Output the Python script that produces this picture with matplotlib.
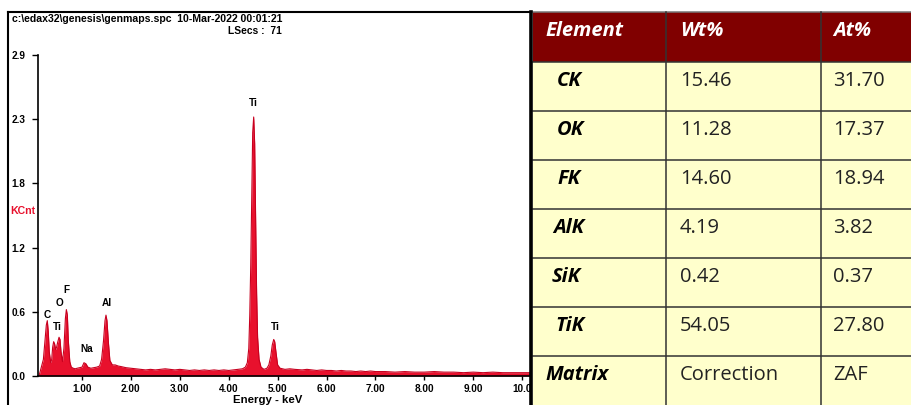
import numpy as np
import matplotlib.pyplot as plt
from matplotlib.patches import Rectangle

# EDS spectrum, energy (keV) vs counts (KCnt)
energy_kev = [0.12, 0.15, 0.18, 0.21, 0.24, 0.27, 0.29, 0.31, 0.33, 0.36,
              0.38, 0.40, 0.42, 0.44, 0.46, 0.48, 0.50, 0.53, 0.55, 0.57,
              0.60, 0.63, 0.66, 0.68, 0.70, 0.72, 0.75, 0.78, 0.82, 0.86,
              0.90, 0.95, 1.00, 1.04, 1.08, 1.12, 1.18, 1.24, 1.30, 1.36,
              1.40, 1.44, 1.47, 1.49, 1.51, 1.54, 1.57, 1.62, 1.68, 1.74,
              1.80, 1.90, 2.00, 2.10, 2.20, 2.30, 2.40, 2.50, 2.60, 2.70,
              2.80, 2.90, 3.00, 3.10, 3.20, 3.30, 3.40, 3.50, 3.60, 3.70,
              3.80, 3.90, 4.00, 4.10, 4.20, 4.28, 4.34, 4.38, 4.41, 4.43,
              4.45, 4.47, 4.49, 4.51, 4.53, 4.55, 4.57, 4.59, 4.62, 4.66,
              4.72, 4.78, 4.82, 4.86, 4.89, 4.92, 4.94, 4.97, 5.00, 5.05,
              5.15, 5.25, 5.35, 5.50, 5.60, 5.70, 5.80, 5.90, 6.00, 6.10,
              6.20, 6.30, 6.40, 6.50, 6.60, 6.70, 6.80, 6.90, 7.00, 7.20,
              7.40, 7.60, 7.80, 8.00, 8.20, 8.40, 8.60, 8.80, 9.00, 9.20,
              9.40, 9.60, 9.80, 10.00, 10.20]
kcnt = [0.00, 0.05, 0.10, 0.15, 0.30, 0.46, 0.50, 0.40, 0.22, 0.12,
        0.15, 0.26, 0.31, 0.29, 0.24, 0.26, 0.30, 0.35, 0.33, 0.22,
        0.13, 0.25, 0.52, 0.60, 0.55, 0.32, 0.13, 0.08, 0.07, 0.065,
        0.07, 0.075, 0.08, 0.12, 0.11, 0.08, 0.07, 0.075, 0.08, 0.09,
        0.15, 0.32, 0.50, 0.55, 0.50, 0.30, 0.14, 0.10, 0.10, 0.09,
        0.085, 0.075, 0.07, 0.065, 0.06, 0.055, 0.06, 0.055, 0.06, 0.065,
        0.06, 0.055, 0.06, 0.055, 0.05, 0.055, 0.05, 0.055, 0.05, 0.055,
        0.05, 0.055, 0.05, 0.055, 0.06, 0.065, 0.08, 0.12, 0.25, 0.55,
        1.00, 1.60, 2.20, 2.34, 2.10, 1.40, 0.75, 0.35, 0.15, 0.08,
        0.06, 0.07, 0.10, 0.18, 0.28, 0.33, 0.31, 0.20, 0.10, 0.07,
        0.06, 0.065, 0.06, 0.055, 0.06, 0.055, 0.05, 0.055, 0.05, 0.05,
        0.045, 0.05, 0.045, 0.045, 0.04, 0.045, 0.04, 0.045, 0.04, 0.04,
        0.035, 0.04, 0.035, 0.035, 0.04, 0.035, 0.035, 0.03, 0.035, 0.03,
        0.035, 0.03, 0.03, 0.03, 0.03]

peak_names = ["C", "O", "F", "Ti", "Na", "Al", "Ti", "Ti"]
peak_x = [0.28, 0.53, 0.67, 0.49, 1.10, 1.51, 4.50, 4.95]
peak_y = [0.55, 0.66, 0.78, 0.44, 0.24, 0.66, 2.47, 0.44]

ytick_vals = np.linspace(0, 2.9, 6)
ytick_labels = ["0.0", "0.6", "1.2", "1.8", "2.3", "2.9"]
xtick_vals = [1, 2, 3, 4, 5, 6, 7, 8, 9, 10]
xtick_labels = ["1.00", "2.00", "3.00", "4.00", "5.00", "6.00", "7.00", "8.00", "9.00", "10.0"]

# quantification table
col_headers = ["Element", "Wt%", "At%"]
elements = ["CK", "OK", "FK", "AlK", "SiK", "TiK"]
wt_pct = [15.46, 11.28, 14.60, 4.19, 0.42, 54.05]
at_pct = [31.70, 17.37, 18.94, 3.82, 0.37, 27.80]
matrix_row = ["Matrix", "Correction", "ZAF"]

W, H = 911, 405
fig = plt.figure(figsize=(W / 100, H / 100), dpi=100)
red = "#e8112d"
sfont = "Liberation Sans"

ax = fig.add_axes([38 / W, 29 / H, 492 / W, 321 / H])
ax.fill_between(energy_kev, kcnt, 0, color=red, lw=0)
ax.plot(energy_kev, kcnt, color="#c8001f", lw=0.8)
ax.set_xlim(0.1, 10.16)
ax.set_ylim(0, 2.9)
for s in ["top", "right"]:
    ax.spines[s].set_visible(False)
for s in ["left", "bottom"]:
    ax.spines[s].set_linewidth(1.2)
ax.set_yticks(ytick_vals)
ax.set_yticklabels(ytick_labels)
ax.set_xticks(xtick_vals)
ax.set_xticklabels(xtick_labels)
ax.tick_params(axis="y", length=4, width=1, pad=5)
ax.tick_params(axis="x", length=3, width=1, pad=3)
for lab in ax.get_xticklabels() + ax.get_yticklabels():
    lab.set_fontfamily(sfont)
    lab.set_fontweight("bold")
    lab.set_fontsize(7.2)
for name, px, py in zip(peak_names, peak_x, peak_y):
    ax.text(px, py, name, ha="center", va="center", fontsize=7.2,
            fontweight="bold", family=sfont)

# overlay in pixel coordinates for frame, captions and table
ov = fig.add_axes([0, 0, 1, 1], facecolor="none")
ov.set_xlim(0, W)
ov.set_ylim(H, 0)
ov.axis("off")

ov.text(12, 19, "c:\\edax32\\genesis\\genmaps.spc  10-Mar-2022 00:01:21",
        fontsize=7.6, fontweight="bold", family=sfont, va="center")
ov.text(255, 31, "LSecs :  71", fontsize=7.4, fontweight="bold", family=sfont,
        va="center", ha="center")
ov.text(10, 211, "KCnt", fontsize=7.6, fontweight="bold", family=sfont,
        color=red, va="center")
ov.text(268, 400, "Energy - keV", fontsize=8.2, fontweight="bold", family=sfont,
        va="center", ha="center")

ov.plot([8, 8], [12, H], color="black", lw=1.5)
ov.plot([8, 531], [12, 12], color="black", lw=1.5)

# table
col_x = [533, 666, 821, 911]
row_y = [12, 62, 111, 160, 209, 258, 307, 356, 405]
tfont = "Open Sans"
fs = 14.5
ov.add_patch(Rectangle((col_x[0], row_y[0]), col_x[-1] - col_x[0], row_y[1] - row_y[0],
                       facecolor="#800000", edgecolor="none"))
ov.add_patch(Rectangle((col_x[0], row_y[1]), col_x[-1] - col_x[0], row_y[-1] - row_y[1],
                       facecolor="#ffffcc", edgecolor="none"))
for yy in row_y[1:-1]:
    ov.plot([col_x[0], col_x[-1]], [yy, yy], color="#333333", lw=1.1)
ov.plot([col_x[0], col_x[-1]], [row_y[0], row_y[0]], color="#777777", lw=1.1)
for xx in col_x[1:3]:
    ov.plot([xx, xx], [row_y[0], row_y[-1]], color="#333333", lw=1.1)
ov.plot([531, 531], [12, H], color="black", lw=2.6)

text_x = [545, 680, 833]
for x0, hdr in zip(text_x, col_headers):
    ov.text(x0, row_y[0] + 19, hdr, color="white", fontsize=fs, fontweight="bold",
            fontstyle="italic", family=tfont, va="center")

name_x = [557, 557, 557, 553, 552, 555]
rows = [(e, f"{w:.2f}", f"{a:.2f}") for e, w, a in zip(elements, wt_pct, at_pct)]
for i, (e, w, a) in enumerate(rows):
    ty = row_y[i + 1] + 19
    ov.text(name_x[i], ty, e, fontsize=fs, fontweight="bold", fontstyle="italic",
            family=tfont, va="center")
    ov.text(text_x[1], ty, w, fontsize=fs, family=tfont, va="center", color="#222222")
    ov.text(text_x[2], ty, a, fontsize=fs, family=tfont, va="center", color="#222222")
ty = row_y[7] + 19
ov.text(text_x[0], ty, matrix_row[0], fontsize=fs, fontweight="bold", fontstyle="italic",
        family=tfont, va="center")
ov.text(text_x[1], ty, matrix_row[1], fontsize=fs, family=tfont, va="center", color="#222222")
ov.text(text_x[2], ty, matrix_row[2], fontsize=fs, family=tfont, va="center", color="#222222")

fig.savefig("out.png", dpi=100)
